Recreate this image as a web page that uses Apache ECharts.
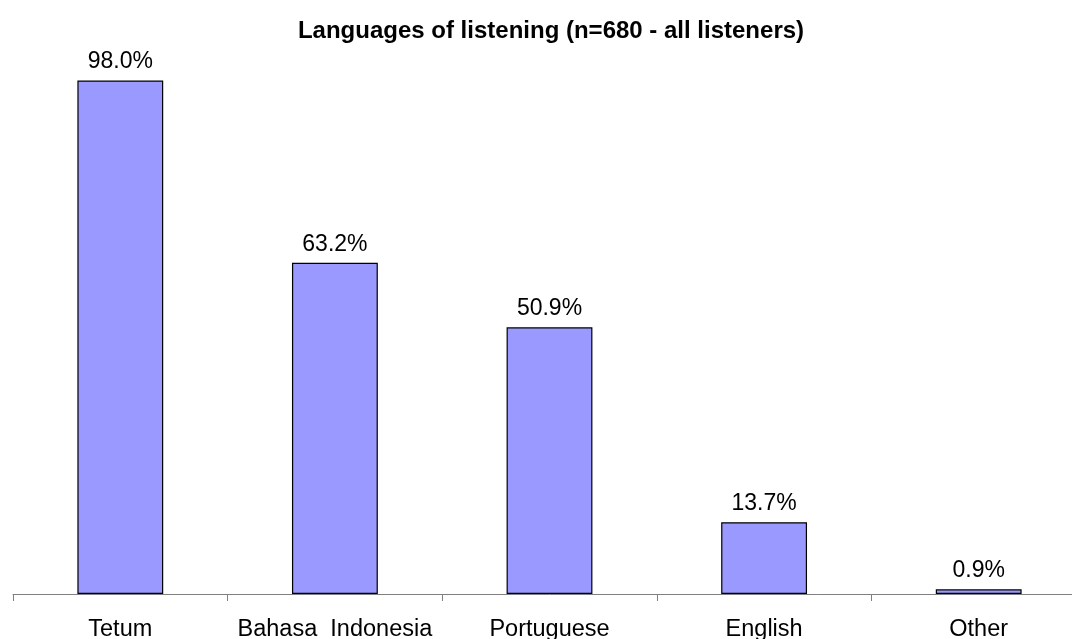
<!DOCTYPE html>
<html>
<head>
<meta charset="utf-8">
<script src="https://cdn.jsdelivr.net/npm/echarts@6/dist/echarts.min.js"></script>
<style>
  html, body { margin: 0; padding: 0; background: #fff; overflow: hidden; }
  #chart { width: 1086px; height: 639px; }
</style>
</head>
<body>
<div id="chart"></div>
<script>
// 数据
var categories = ["Tetum", "Bahasa  Indonesia", "Portuguese", "English", "Other"];
var values = [98.0, 63.2, 50.9, 13.7, 0.9];

var chart = echarts.init(document.getElementById("chart"));
var option = {
  animation: false,
  title: {
    text: "Languages of listening (n=680 - all listeners)",
    left: 546,
    top: 14,
    textAlign: "center",
    textStyle: {
      fontFamily: "Liberation Sans, Arial",
      fontSize: 24,
      fontWeight: "bold",
      color: "#000"
    }
  },
  grid: {
    left: 13,
    right: 0,
    top: 70,
    bottom: 45,
    containLabel: false,
    outerBoundsMode: "none"
  },
  xAxis: {
    type: "category",
    data: categories,
    axisLine: { lineStyle: { color: "#808080", width: 1 } },
    axisTick: { show: true, length: 7, lineStyle: { color: "#808080" } },
    axisLabel: {
      color: "#000",
      fontFamily: "Liberation Sans, Arial",
      fontSize: 23.5,
      margin: 24,
      interval: 0
    }
  },
  yAxis: {
    type: "value",
    min: 0,
    max: 100,
    show: false
  },
  series: [
    {
      type: "bar",
      data: values,
      barWidth: "40%",
      itemStyle: {
        color: "#9999FF",
        borderColor: "#000",
        borderWidth: 1.2
      },
      label: {
        show: true,
        position: "top",
        distance: 7,
        formatter: function (p) { return p.value.toFixed(1) + "%"; },
        color: "#000",
        fontFamily: "Liberation Sans, Arial",
        fontSize: 23
      }
    }
  ]
};
chart.setOption(option);
</script>
</body>
</html>
